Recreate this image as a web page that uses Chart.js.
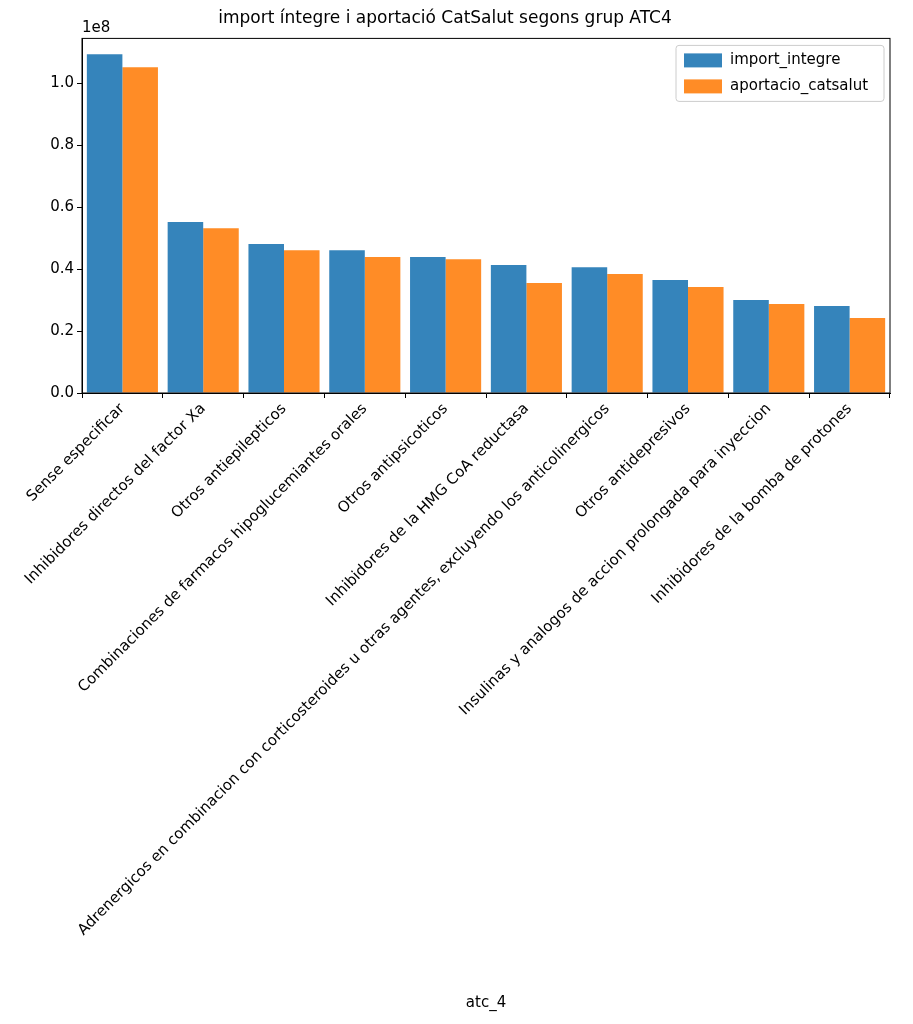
<!DOCTYPE html>
<html><head><meta charset="utf-8">
<script src="https://cdn.jsdelivr.net/npm/chart.js@4"></script>
<style>body{margin:0;background:#fff}#wrap{width:913px;height:1024px}</style>
</head><body><div id="wrap"><canvas id="c"></canvas></div>
<script>
const categories = ['Sense especificar','Inhibidores directos del factor Xa','Otros antiepilepticos','Combinaciones de farmacos hipoglucemiantes orales','Otros antipsicoticos','Inhibidores de la HMG CoA reductasa','Adrenergicos en combinacion con corticosteroides u otras agentes, excluyendo los anticolinergicos','Otros antidepresivos','Insulinas y analogos de accion prolongada para inyeccion','Inhibidores de la bomba de protones'];
const importIntegre = [1.094e8,0.552e8,0.481e8,0.461e8,0.439e8,0.413e8,0.406e8,0.365e8,0.300e8,0.281e8];
const aportacioCatsalut = [1.052e8,0.532e8,0.461e8,0.439e8,0.432e8,0.355e8,0.384e8,0.342e8,0.287e8,0.242e8];
const yTicks = [0,0.2e8,0.4e8,0.6e8,0.8e8,1.0e8];
const seriesNames = ['import_integre','aportacio_catsalut'];
const seriesColors = ['rgba(31,119,180,0.9)','rgba(255,127,14,0.9)'];

const font = {family:'DejaVu Sans', size:15};
const extras = {
  id:'extras',
  afterDraw(chart){
    const a = chart.chartArea, ctx = chart.ctx;
    ctx.save(); ctx.font = '15px DejaVu Sans'; ctx.fillStyle = '#000';
    ctx.textBaseline = 'bottom'; ctx.fillText('1e8', a.left, a.top - 3);
    ctx.strokeStyle = '#000'; ctx.lineWidth = 1;
    ctx.strokeRect(a.left, a.top, a.right - a.left, a.bottom - a.top);
    // legend
    const lx = a.right - 214, ly = a.top + 7;
    ctx.strokeStyle = '#ccc'; ctx.fillStyle = 'rgba(255,255,255,0.8)';
    ctx.beginPath(); ctx.roundRect(lx, ly, 208, 56, 3); ctx.fill(); ctx.stroke();
    ctx.textBaseline = 'middle';
    seriesNames.forEach((n,i)=>{
      const y = ly + 15 + i*26;
      ctx.fillStyle = seriesColors[i]; ctx.fillRect(lx+8, y-7, 38, 14);
      ctx.fillStyle = '#000'; ctx.fillText(n, lx+54, y);
    });
    ctx.restore();
  }
};
new Chart(document.getElementById('c'), {
  type:'bar',
  data:{labels:categories, datasets:seriesNames.map((n,i)=>({
    label:n, data:i ? aportacioCatsalut : importIntegre,
    backgroundColor:seriesColors[i], categoryPercentage:0.88, barPercentage:1}))},
  options:{
    responsive:true, maintainAspectRatio:false, animation:false,
    layout:{padding:{left:0,right:23,top:0,bottom:8}},
    plugins:{
      title:{display:true, text:'import íntegre i aportació CatSalut segons grup ATC4', color:'#000', font:{family:'DejaVu Sans', size:17, weight:'normal'}, padding:{top:8,bottom:10}},
      legend:{display:false},
      tooltip:{enabled:false}
    },
    scales:{
      x:{grid:{drawOnChartArea:false, color:'#000', tickLength:5}, border:{color:'#000'},
        afterFit(s){ s.height = 1024 - 393 - 8; },
        ticks:{color:'#000', font, autoSkip:false, maxRotation:45, minRotation:45, padding:2},
        title:{display:true, text:'atc_4', color:'#000', font}},
      y:{min:0, max:1.145e8, grid:{drawOnChartArea:false, color:'#000', tickLength:5}, border:{color:'#000'},
        afterFit(s){ s.width = 82; },
        afterBuildTicks(s){ s.ticks = yTicks.map(v=>({value:v})); },
        ticks:{color:'#000', font, callback:v=>(v/1e8).toFixed(1)}}
    }
  },
  plugins:[extras]
});
</script></body></html>
